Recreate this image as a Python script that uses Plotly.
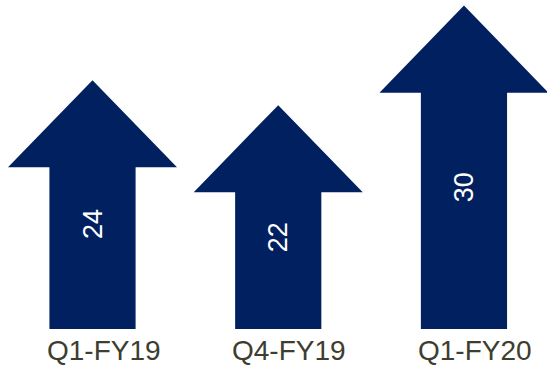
import plotly.graph_objects as go

categories = ["Q1-FY19", "Q4-FY19", "Q1-FY20"]
values = [24, 22, 30]

# style constants
ARROW_COLOR = "#002060"
LABEL_COLOR = "#3d3d30"
BASE = 4.0          # where shaft ends (axis units)
HEAD_H = 7.0        # head height (axis units)
HEAD_HW = 0.455     # head half width (category units)
SHAFT_HW = 0.232    # shaft half width

fig = go.Figure()
for i, (cat, v) in enumerate(zip(categories, values)):
    hb = v - HEAD_H
    xs = [i - SHAFT_HW, i - SHAFT_HW, i - HEAD_HW, i, i + HEAD_HW, i + SHAFT_HW, i + SHAFT_HW, i - SHAFT_HW]
    ys = [BASE, hb, hb, v, hb, hb, BASE, BASE]
    fig.add_trace(go.Scatter(x=xs, y=ys, mode="lines", fill="toself",
                             fillcolor=ARROW_COLOR, line=dict(width=0, color=ARROW_COLOR),
                             hoverinfo="skip", showlegend=False))
    fig.add_annotation(x=i, y=v / 2, text=str(v), showarrow=False, textangle=-90,
                       yshift=5,
                       font=dict(family="Liberation Sans, Arial", size=27, color="white"),
                       xanchor="center", yanchor="middle")
    fig.add_annotation(x=i, y=0, yref="paper", text=cat, showarrow=False,
                       xshift=11, yshift=0, xanchor="center", yanchor="bottom",
                       font=dict(family="Liberation Sans, Arial", size=28, color=LABEL_COLOR))

fig.update_layout(
    width=547, height=368,
    margin=dict(l=0, r=0, t=0, b=0),
    paper_bgcolor="white", plot_bgcolor="white",
    xaxis=dict(range=[-0.498, 2.447], visible=False, fixedrange=True),
    yaxis=dict(range=[0.87, 30.45], visible=False, fixedrange=True),
)
fig.write_html("out.html", config={"displayModeBar": False})
